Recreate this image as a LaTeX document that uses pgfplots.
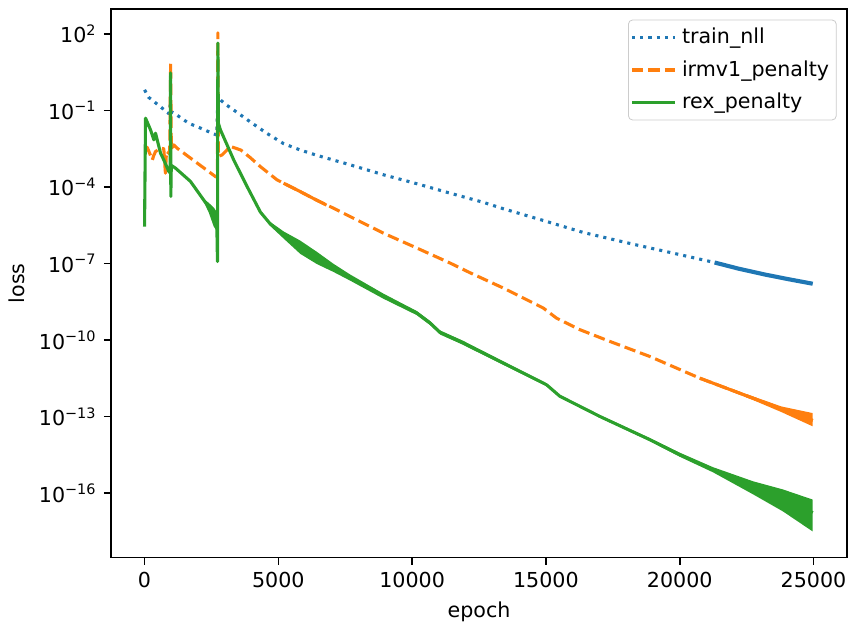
\documentclass[border=0pt]{standalone}
\usepackage{fontspec}
\setmainfont{DejaVu Sans}
\usepackage{pgfplots}
\pgfplotsset{compat=1.18}
\definecolor{tabblue}{HTML}{1F77B4}
\definecolor{taborange}{HTML}{FF7F0E}
\definecolor{tabgreen}{HTML}{2CA02C}

\begin{document}
\begin{tikzpicture}
\begin{axis}[
name=ax,
width=357pt,
height=266pt,
scale only axis,
ymode=log,
xmin=-1250, xmax=26250,
ymin=3e-19, ymax=926,
xtick={0,5000,10000,15000,20000,25000},
xticklabels={0,5000,10000,15000,20000,25000},
scaled x ticks=false,
ytick={1e-16,1e-13,1e-10,1e-7,1e-4,1e-1,1e2},
yticklabels={10\textsuperscript{−16},10\textsuperscript{−13},10\textsuperscript{−10},10\textsuperscript{−7},10\textsuperscript{−4},10\textsuperscript{−1},10\textsuperscript{2}},
yminorticks=false,
tick pos=left,
tick align=outside,
major tick length=3.5pt,
every tick/.style={black, line width=0.8pt},
axis line style={line width=0.8pt},
xlabel={epoch},
ylabel={loss},
legend cell align=left,
legend style={at={(1,1)}, xshift=-5pt, yshift=-5pt, anchor=north east,
  draw=black!20, rounded corners=2pt, fill=white, fill opacity=0.8, text opacity=1,
  inner xsep=1pt, inner ysep=2pt, row sep=2.6pt,
  nodes={inner xsep=2.5pt, inner ysep=2pt}},
legend image code/.code={\draw[#1] (0pt,0pt) -- (21pt,0pt);},
]
% train_nll
\addplot[tabblue, line width=1.5pt, dash pattern=on 1.5pt off 2.475pt, line join=round] coordinates {
(0,6.46e-1) (150,3.31e-1) (350,2.24e-1) (660,1.23e-1) (900,7.59e-2) (960,1.66e-1)
(1000,8.91e-2) (1100,7.94e-2) (1650,3.16e-2) (2090,2.04e-2) (2590,1.20e-2) (2700,1.10e-2)
(2740,4.07e-1) (2850,2.51e-1) (3085,1.58e-1) (3518,7.59e-2) (3955,3.55e-2) (4577,1.26e-2)
(5198,5.01e-3) (5820,2.82e-3) (6442,1.74e-3) (7686,7.41e-4) (8930,3.02e-4) (10174,1.35e-4)
(11417,5.75e-5) (12661,2.51e-5) (13406,1.41e-5) (14898,4.90e-6) (16390,1.66e-6)
(18256,5.75e-7) (19748,2.57e-7) (21304,1.10e-7)
};
\addlegendentry{train\_nll}
\addplot[tabblue, line width=2pt, forget plot] coordinates {
(21304,1.10e-7) (22200,6.31e-8) (23232,3.63e-8) (24100,2.40e-8) (24971,1.62e-8)
};
% irmv1_penalty
\addplot[taborange, line width=1.5pt, dash pattern=on 5.55pt off 2.4pt, line join=round] coordinates {
(0,3.89e-3) (100,3.55e-3) (200,2.00e-3) (290,1.15e-3) (350,1.78e-3) (410,2.45e-3)
(600,3.31e-3) (720,3.16e-3) (780,3.47e-4) (820,2.51e-3) (940,2.00e-3) (975,7.24)
(1000,3.16e-3) (1095,4.47e-3) (1220,3.31e-3) (1966,8.71e-4) (2650,2.57e-4) (2720,2.40e-4)
(2740,1.10e2) (2760,1.58e-3) (2900,1.82e-3) (3209,3.89e-3) (3600,2.82e-3) (3955,1.41e-3)
(4328,6.31e-4) (4951,1.91e-4) (5198,1.41e-4) (5820,6.61e-5) (6442,3.02e-5) (7063,1.48e-5)
(7686,6.92e-6) (8930,1.55e-6) (10174,4.07e-7) (11417,1.05e-7) (12163,4.37e-8)
(13406,1.10e-8) (14898,1.82e-9) (15398,7.24e-10) (16267,2.57e-10) (17387,8.91e-11)
(18879,2.29e-11) (20744,3.24e-12) (22721,5.37e-13) (24971,7.08e-14)
};
\addlegendentry{irmv1\_penalty}
\addplot[taborange, line width=1.5pt, forget plot] coordinates {
(5198,1.41e-4) (5820,6.61e-5) (6442,3.02e-5) (6800,1.95e-5)
};
\addplot[taborange, line width=1.5pt, forget plot] coordinates {
(20744,3.24e-12) (22721,5.37e-13) (24971,7.08e-14)
};
\addplot[taborange, fill=taborange, draw=none, forget plot] coordinates {
(21500,1.78e-12) (22721,6.31e-13) (23800,2.51e-13) (24971,1.38e-13)
(24971,4.17e-14) (23800,1.51e-13) (22721,4.57e-13) (21500,1.48e-12)
} --cycle;
% rex_penalty
\addplot[tabgreen, line width=1.5pt, line join=round] coordinates {
(0,2.82e-6) (37,5.01e-2) (224,1.74e-2) (347,7.08e-3) (410,1.29e-2) (597,2.14e-3)
(720,1.15e-3) (907,4.07e-4) (960,3.55e-4) (972,2.95) (982,4.27e-5) (1000,7.08e-4)
(1157,5.50e-4) (1716,1.66e-4) (2339,2.00e-5) (2585,6.92e-6) (2700,3.98e-6) (2725,1.20e-7)
(2740,43.7) (2760,3.16e-2) (2836,1.74e-2) (3333,1.15e-3) (3831,1.05e-4) (4328,1.05e-5)
(4700,3.55e-6) (5198,1.32e-6) (5820,4.37e-7) (6442,1.66e-7) (7063,6.76e-8) (7686,2.82e-8)
(8930,5.25e-9) (9552,2.45e-9) (10174,1.15e-9) (10671,4.68e-10) (11044,2.00e-10)
(11913,7.76e-11) (12163,5.62e-11) (13158,1.70e-11) (13655,9.33e-12) (15023,1.78e-12)
(15520,6.31e-13) (16390,2.19e-13) (17014,1.02e-13) (18879,1.26e-14) (19998,3.24e-15)
(21241,8.32e-16) (22733,1.86e-16) (23852,8.71e-17) (24971,1.70e-17)
};
\addlegendentry{rex\_penalty}
\addplot[tabgreen, fill=tabgreen, draw=none, forget plot] coordinates {
(2200,3.55e-5) (2400,2.40e-5) (2585,1.58e-5) (2715,1.00e-5)
(2715,1.78e-6) (2585,2.82e-6) (2400,1.00e-5) (2200,2.82e-5)
} --cycle;
\addplot[tabgreen, fill=tabgreen, draw=none, forget plot] coordinates {
(4328,1.05e-5) (4700,4.27e-6) (5198,1.82e-6) (5820,7.94e-7) (6442,2.88e-7) (7063,9.77e-8)
(7686,3.72e-8) (8930,6.61e-9) (10174,1.38e-9) (10671,5.62e-10) (11044,2.40e-10)
(11913,9.33e-11) (13158,2.00e-11) (15023,2.00e-12) (15520,7.08e-13) (17014,1.15e-13)
(18879,1.45e-14) (19998,3.89e-15) (21241,1.05e-15) (22733,2.95e-16) (23852,1.41e-16)
(24971,5.62e-17)
(24971,3.16e-18) (23852,1.95e-17) (22733,9.12e-17) (21241,6.61e-16) (19998,2.69e-15)
(18879,1.10e-14) (17014,9.12e-14) (15520,5.62e-13) (15023,1.58e-12) (13158,1.45e-11)
(11913,6.46e-11) (11044,1.66e-10) (10671,3.89e-10) (10174,9.55e-10) (8930,4.17e-9)
(7686,2.14e-8) (7063,4.68e-8) (6442,9.55e-8) (5820,2.40e-7) (5198,9.55e-7) (4700,2.95e-6)
} --cycle;
\end{axis}
\pgfresetboundingbox
\useasboundingbox ([shift={(-53.9pt,-32.5pt)}]ax.south west) rectangle ([shift={(1pt,4.5pt)}]ax.north east);
\end{tikzpicture}
\end{document}
